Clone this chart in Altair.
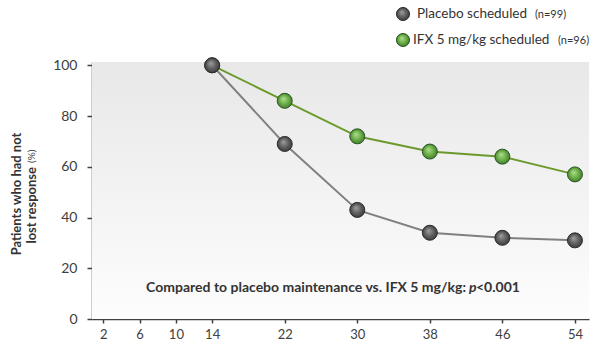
import altair as alt
import pandas as pd

# ---- data ----
weeks = [14, 22, 30, 38, 46, 54]
placebo = [100, 69, 43, 34, 32, 31]
ifx = [100, 86, 72, 66, 64, 57]
x_ticks = [2, 6, 10, 14, 22, 30, 38, 46, 54]
y_ticks = [0, 20, 40, 60, 80, 100]
series_names = ["Placebo scheduled", "IFX 5 mg/kg scheduled"]
series_n = ["(n=99)", "(n=96)"]
y_title = ["Patients who had not", "lost response", "(%)"]
note_main = "Compared to placebo maintenance vs. IFX 5 mg/kg:"
note_p = "p"
note_val = "<0.001"

W, H = 497, 257
FONT = "Lato"
TXT = "#333333"
AX = "#404040"

df = pd.DataFrame({
    "week": weeks + weeks,
    "value": placebo + ifx,
    "series": [series_names[0]] * len(weeks) + [series_names[1]] * len(weeks),
})
one = pd.DataFrame({"a": [0]})

x_enc = alt.X("week:Q",
              scale=alt.Scale(domain=[0.75, 55.55], nice=False, zero=False),
              axis=alt.Axis(values=x_ticks, title=None, grid=False, tickSize=4,
                            labelPadding=5, labelFontSize=13))
y_enc = alt.Y("value:Q",
              scale=alt.Scale(domain=[0, 101.3], nice=False),
              axis=alt.Axis(values=y_ticks, title=None, grid=False, tickSize=5,
                            labelPadding=10, labelFontSize=14))

bg = alt.Chart(one).mark_rect(
    fill=alt.Gradient(gradient="linear",
                      stops=[alt.GradientStop(color="#e8e8e8", offset=0),
                             alt.GradientStop(color="#fdfdfd", offset=1)],
                      x1=0, x2=0, y1=0, y2=1)
).encode(x=alt.value(0), x2=alt.value(W), y=alt.value(0), y2=alt.value(H))

def sphere(c0, c1, c2):
    return alt.Gradient(gradient="radial",
                        stops=[alt.GradientStop(color=c0, offset=0),
                               alt.GradientStop(color=c1, offset=0.55),
                               alt.GradientStop(color=c2, offset=1)],
                        x1=0.4, y1=0.35, r1=0, x2=0.5, y2=0.5, r2=0.55)

gray_fill = sphere("#a0a0a0", "#606060", "#383838")
green_fill = sphere("#b0df90", "#6cae48", "#3b7628")

base = alt.Chart(df)
line_p = base.transform_filter(alt.datum.series == series_names[0]).mark_line(
    color="#808080", strokeWidth=2).encode(x=x_enc, y=y_enc)
line_i = base.transform_filter(alt.datum.series == series_names[1]).mark_line(
    color="#6b9a2c", strokeWidth=2).encode(x=x_enc, y=y_enc)
pts_i = base.transform_filter(alt.datum.series == series_names[1]).mark_circle(
    size=225, fill=green_fill, stroke="#2e5426", strokeWidth=1, opacity=1).encode(x=x_enc, y=y_enc)
pts_p = base.transform_filter(alt.datum.series == series_names[0]).mark_circle(
    size=225, fill=gray_fill, stroke="#2a2a2a", strokeWidth=1, opacity=1).encode(x=x_enc, y=y_enc)

def txt(text, x, y, size=13, weight="normal", align="left", style="normal",
        angle=0, color=TXT):
    kw = dict(text=text, font=FONT, fontSize=size, fontWeight=weight, align=align,
              baseline="middle", fontStyle=style, color=color)
    if angle:
        kw["angle"] = angle
    return alt.Chart(one).mark_text(**kw).encode(x=alt.value(x), y=alt.value(y))

# legend
leg_p = alt.Chart(one).mark_circle(size=170, fill=gray_fill, stroke="#2a2a2a",
                                   strokeWidth=1, opacity=1).encode(
    x=alt.value(311), y=alt.value(-48))
leg_i = alt.Chart(one).mark_circle(size=170, fill=green_fill, stroke="#2e5426",
                                   strokeWidth=1, opacity=1).encode(
    x=alt.value(311), y=alt.value(-22))
leg_t = [
    txt(series_names[0], 325, -48, size=13.5),
    txt(series_n[0], 443, -47, size=11),
    txt(series_names[1], 321, -22, size=13.5),
    txt(series_n[1], 466, -21, size=11),
]

# y title
ytitle = [
    txt(y_title[0], -75, 132, size=13, weight="bold", align="center", angle=270),
    txt(y_title[1], -60, 105, size=13, weight="bold", align="right", angle=270),
    txt(y_title[2], -60, 101, size=10, weight="normal", align="left", angle=270),
]

# annotation
note = [
    txt(note_main, 374, 226, size=14, weight="bold", align="right"),
    txt(note_p, 377, 226, size=14, weight="bold", style="italic"),
    txt(note_val, 384, 226, size=14, weight="bold"),
]

chart = alt.layer(bg, line_p, line_i, pts_i, pts_p, leg_p, leg_i,
                  *leg_t, *ytitle, *note).properties(
    width=W, height=H,
    padding={"left": 92, "top": 62, "right": 11, "bottom": 38},
    autosize=alt.AutoSizeParams(type="none"),
).configure_view(stroke=None).configure_axis(
    domainColor=AX, tickColor=AX, labelColor=AX, labelFont=FONT,
    domainWidth=1.5, tickWidth=1.5,
)

chart.save("out.html", embed_options={"renderer": "svg", "actions": False})
